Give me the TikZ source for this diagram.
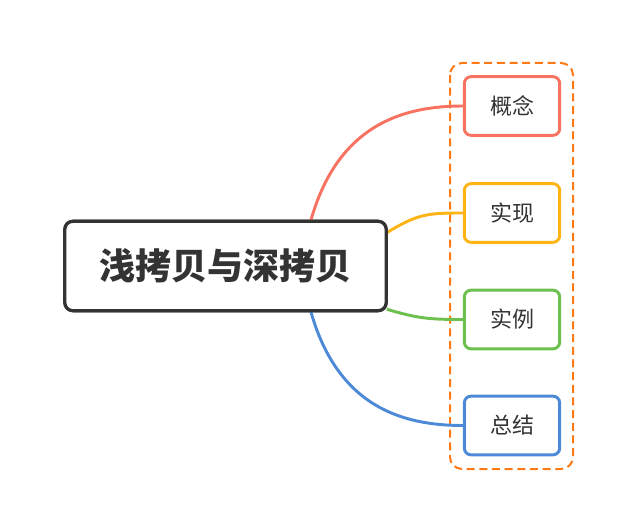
\documentclass[tikz,border=0pt]{standalone}
\usepackage{fontspec}
\setmainfont{Noto Sans CJK SC}
\usepackage{tikz}
\usetikzlibrary{calc}

\definecolor{mapred}{HTML}{F87262}
\definecolor{mapyellow}{HTML}{FDB414}
\definecolor{mapgreen}{HTML}{6CC04E}
\definecolor{mapblue}{HTML}{4C8AD8}
\definecolor{maporange}{HTML}{FF7A14}
\definecolor{mapdark}{HTML}{333333}

\begin{document}
\begin{tikzpicture}[
  x=0.75pt, y=-0.75pt,
  rootbox/.style={draw=mapdark, line width=2.4pt, rounded corners=6pt, fill=white,
    minimum width=241pt, minimum height=67pt, text=mapdark, font=\fontsize{27}{32}\selectfont\bfseries},
  leafbox/.style={draw=#1, line width=2.2pt, rounded corners=5pt, fill=white,
    minimum width=71.5pt, minimum height=44pt, text=mapdark, font=\fontsize{16.5}{20}\selectfont},
  branch/.style={draw=#1, line width=2.2pt},
  group/.style={draw=maporange, line width=1.5pt, dash pattern=on 6pt off 3.5pt, rounded corners=9pt}
]
\useasboundingbox (0,0) rectangle (635,531);

% dashed frame behind the leaves
\draw[group] (450,63) rectangle (573,469);

\node[rootbox] (root) at (225.5,266) {浅拷贝与深拷贝};

\node[leafbox=mapred]    (concept) at (512,106)   {概念};
\node[leafbox=mapyellow] (impl)    at (512,213)   {实现};
\node[leafbox=mapgreen]  (sample)  at (512,319.5) {实例};
\node[leafbox=mapblue]   (summary) at (512,425.5) {总结};

% branches
\draw[branch=mapred] ($(root.north east)+(-77,1)$)
  .. controls ($(root.north east)+(-50,-95)$) and ($(concept.west)+(-60,0)$) .. (concept.west);
\draw[branch=mapyellow] ($(root.north east)+(-1,13)$)
  .. controls ($(root.north east)+(30,-6)$) and ($(impl.west)+(-35,0)$) .. (impl.west);
\draw[branch=mapgreen] ($(root.south east)+(-1,-3)$)
  .. controls ($(root.south east)+(30,6)$) and ($(sample.west)+(-35,0)$) .. (sample.west);
\draw[branch=mapblue] ($(root.south east)+(-77,-1)$)
  .. controls ($(root.south east)+(-50,95)$) and ($(summary.west)+(-60,0)$) .. (summary.west);

% redraw the root on top of its branch ends
\node[rootbox] at (root) {浅拷贝与深拷贝};

\end{tikzpicture}
\end{document}
